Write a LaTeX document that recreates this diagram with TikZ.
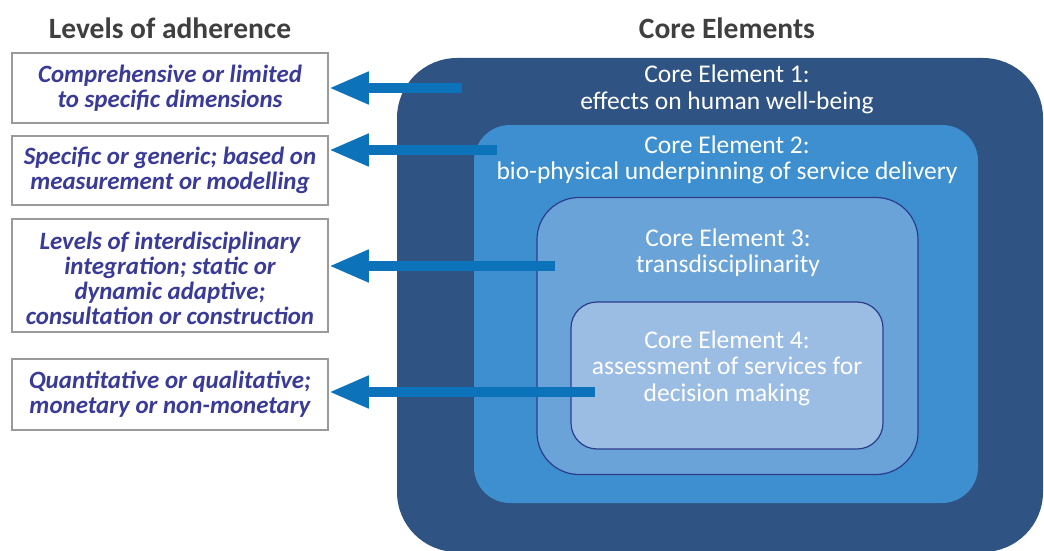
\documentclass[tikz,border=0pt]{standalone}
\usepackage{fontspec}
\setmainfont{Carlito}
\usetikzlibrary{arrows.meta}
\definecolor{navy}{HTML}{2F5383}
\definecolor{midblue}{HTML}{3E8FCF}
\definecolor{lightblue}{HTML}{6AA3D7}
\definecolor{paleblue}{HTML}{9BBDE4}
\definecolor{edgeblue}{HTML}{2B3C8C}
\definecolor{arrowblue}{HTML}{0C72BA}
\definecolor{levelink}{HTML}{3A3B97}
\definecolor{headink}{HTML}{3F3F3F}
\definecolor{boxline}{HTML}{9A9A9A}
\tikzset{
  levelbox/.style={draw=boxline, line width=1.5pt, fill=white, minimum width=316pt, inner sep=0pt},
  leveltext/.style={font=\fontsize{24.9}{25}\selectfont\bfseries\itshape, text=levelink, align=center, inner sep=0pt},
  coretext/.style={font=\fontsize{25.5}{26.5}\selectfont, text=white, align=center, inner sep=0pt},
  heading/.style={font=\fontsize{29.5}{32}\selectfont\bfseries, text=headink, inner sep=0pt},
  layer/.style={rectangle, inner sep=0pt},
  pointer/.style={draw=arrowblue, line width=10pt, -{Triangle[length=40pt,width=30pt]}}
}
\begin{document}
\begin{tikzpicture}[x=1pt,y=-1pt]
\useasboundingbox (0,0) rectangle (1044,551);
% nested core element layers
\node[layer, fill=navy, rounded corners=60pt, minimum width=646pt, minimum height=494pt] (ce1) at (720,305) {};
\node[layer, fill=midblue, rounded corners=36pt, minimum width=504pt, minimum height=378pt] (ce2) at (726,314) {};
\node[layer, fill=lightblue, draw=edgeblue, line width=1.2pt, rounded corners=42pt, minimum width=381pt, minimum height=277pt] (ce3) at (727.5,336) {};
\node[layer, fill=paleblue, draw=edgeblue, line width=1.2pt, rounded corners=26pt, minimum width=312pt, minimum height=147pt] (ce4) at (727,375.5) {};
% headings
\node[heading] (h1) at (170,28) {Levels of adherence};
\node[heading] (h2) at (727,28) {Core Elements};
% level boxes
\node[levelbox, minimum height=70pt] (b1) at (170,88) {};
\node[levelbox, minimum height=69pt] (b2) at (170,170.5) {};
\node[levelbox, minimum height=113pt] (b3) at (170,275.5) {};
\node[levelbox, minimum height=71pt] (b4) at (170,394.5) {};
\node[leveltext] (t1) at (b1) {Comprehensive or limited\\to specific dimensions};
\node[leveltext] (t2) at (b2) {Specific or generic; based on\\measurement or modelling};
\node[leveltext] (t3) at (170,278) {Levels of interdisciplinary\\integration; static or\\dynamic adaptive;\\consultation or construction};
\node[leveltext] (t4) at (b4) {Quantitative or qualitative;\\monetary or non-monetary};
% arrow start points inside the layers
\coordinate (s1) at (462,88);
\coordinate (s2) at (497,150);
\coordinate (s3) at (555,266);
\coordinate (s4) at (595,392);
\draw[pointer] (s1) -- (s1 -| b1.east);
\draw[pointer] (s2) -- (s2 -| b2.east);
\draw[pointer] (s3) -- (s3 -| b3.east);
\draw[pointer] (s4) -- (s4 -| b4.east);
% core element labels
\node[coretext] (c1) at (727,89.5) {Core Element 1:\\effects on human well-being};
\node[coretext] (c2) at (727,160) {Core Element 2:\\bio-physical underpinning of service delivery};
\node[coretext] (c3) at (728,252.5) {Core Element 3:\\transdisciplinarity};
\node[coretext] (c4) at (727,368) {Core Element 4:\\assessment of services for\\decision making};
\end{tikzpicture}
\end{document}
